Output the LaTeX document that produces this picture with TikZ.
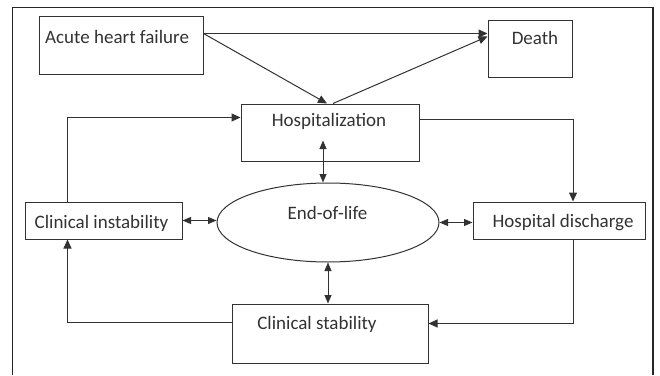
\documentclass[tikz,border=0pt]{standalone}
\usepackage{fontspec}
\setmainfont{Carlito}
\usepackage{tikz}
\definecolor{linegray}{RGB}{50,50,50}
\definecolor{textgray}{RGB}{50,50,50}
\usetikzlibrary{arrows.meta}
\usetikzlibrary{shapes.geometric}
\tikzstyle{box}=[rectangle,draw=linegray,line width=1pt,inner sep=0pt]
\tikzstyle{txt}=[inner sep=0pt,anchor=base,text=textgray,font=\fontsize{19}{22}\selectfont]
\tikzstyle{arr}=[-{Triangle[length=9pt,width=8pt]},draw=linegray,line width=1pt]
\tikzstyle{dbl}=[{Triangle[length=8.5pt,width=7pt]}-{Triangle[length=8.5pt,width=7pt]},draw=linegray,line width=1pt]

\begin{document}
\begin{tikzpicture}[x=1pt,y=-1pt]
        \useasboundingbox (0,0) rectangle (660,375);
        \draw [line width=1.4pt, draw=black!85] (12.7,375) -- (12.7,7.3) -- (653,7.3) -- (653,375);

        \node [box, minimum width=164pt, minimum height=58pt] (ahf) at (121, 45) {};
        \node [box, minimum width=84pt, minimum height=57pt] (death) at (530, 48.5) {};
        \node [box, minimum width=178pt, minimum height=57pt] (hosp) at (330, 132.5) {};
        \node [box, ellipse, minimum width=222pt, minimum height=79pt] (eol) at (328, 222.5) {};
        \node [box, minimum width=157pt, minimum height=37pt] (ci) at (103.5, 220.5) {};
        \node [box, minimum width=172pt, minimum height=37pt] (hd) at (559, 220.5) {};
        \node [box, minimum width=196pt, minimum height=59pt] (cs) at (330, 333.5) {};

        \node [txt, anchor=base west] (ahf-t) at (45, 43) {Acute heart failure};
        \node [txt] (death-t) at (535, 44) {Death};
        \node [txt] (hosp-t) at (329, 126) {Hospitalization};
        \node [txt] (eol-t) at (327.5, 219) {End-of-life};
        \node [txt] (ci-t) at (101.5, 228) {Clinical instability};
        \node [txt] (hd-t) at (563, 227) {Hospital discharge};
        \node [txt] (cs-t) at (317, 329) {Clinical stability};

        \draw [arr] ([yshift=-18pt]ahf.north east) -- ([yshift=-14pt]death.north west);
        \draw [arr] ([yshift=-18pt]ahf.north east) -- ([xshift=-3pt]hosp.north);
        \draw [arr] ([xshift=3pt]hosp.north) -- ([yshift=-17pt]death.north west);

        \draw [arr] ([xshift=-36pt]ci.north) |- ([yshift=-14pt]hosp.north west);
        \draw [arr] ([yshift=-16pt]hosp.north east) -| ([xshift=14pt]hd.north);
        \draw [arr] ([yshift=-19pt]cs.north west) -| ([xshift=-36pt]ci.south);
        \draw [arr] ([xshift=14pt]hd.south) |- ([yshift=-20pt]cs.north east);

        \draw [dbl] ([xshift=-7pt,yshift=21pt]hosp.south) -- ([xshift=-5pt]eol.north);
        \draw [dbl] (ci.east) -- (ci.east -| eol.west);
        \draw [dbl] (eol.east) -- (eol.east -| hd.west);
        \draw [dbl] (eol.south) -- (eol.south |- cs.north);
\end{tikzpicture}
\end{document}
